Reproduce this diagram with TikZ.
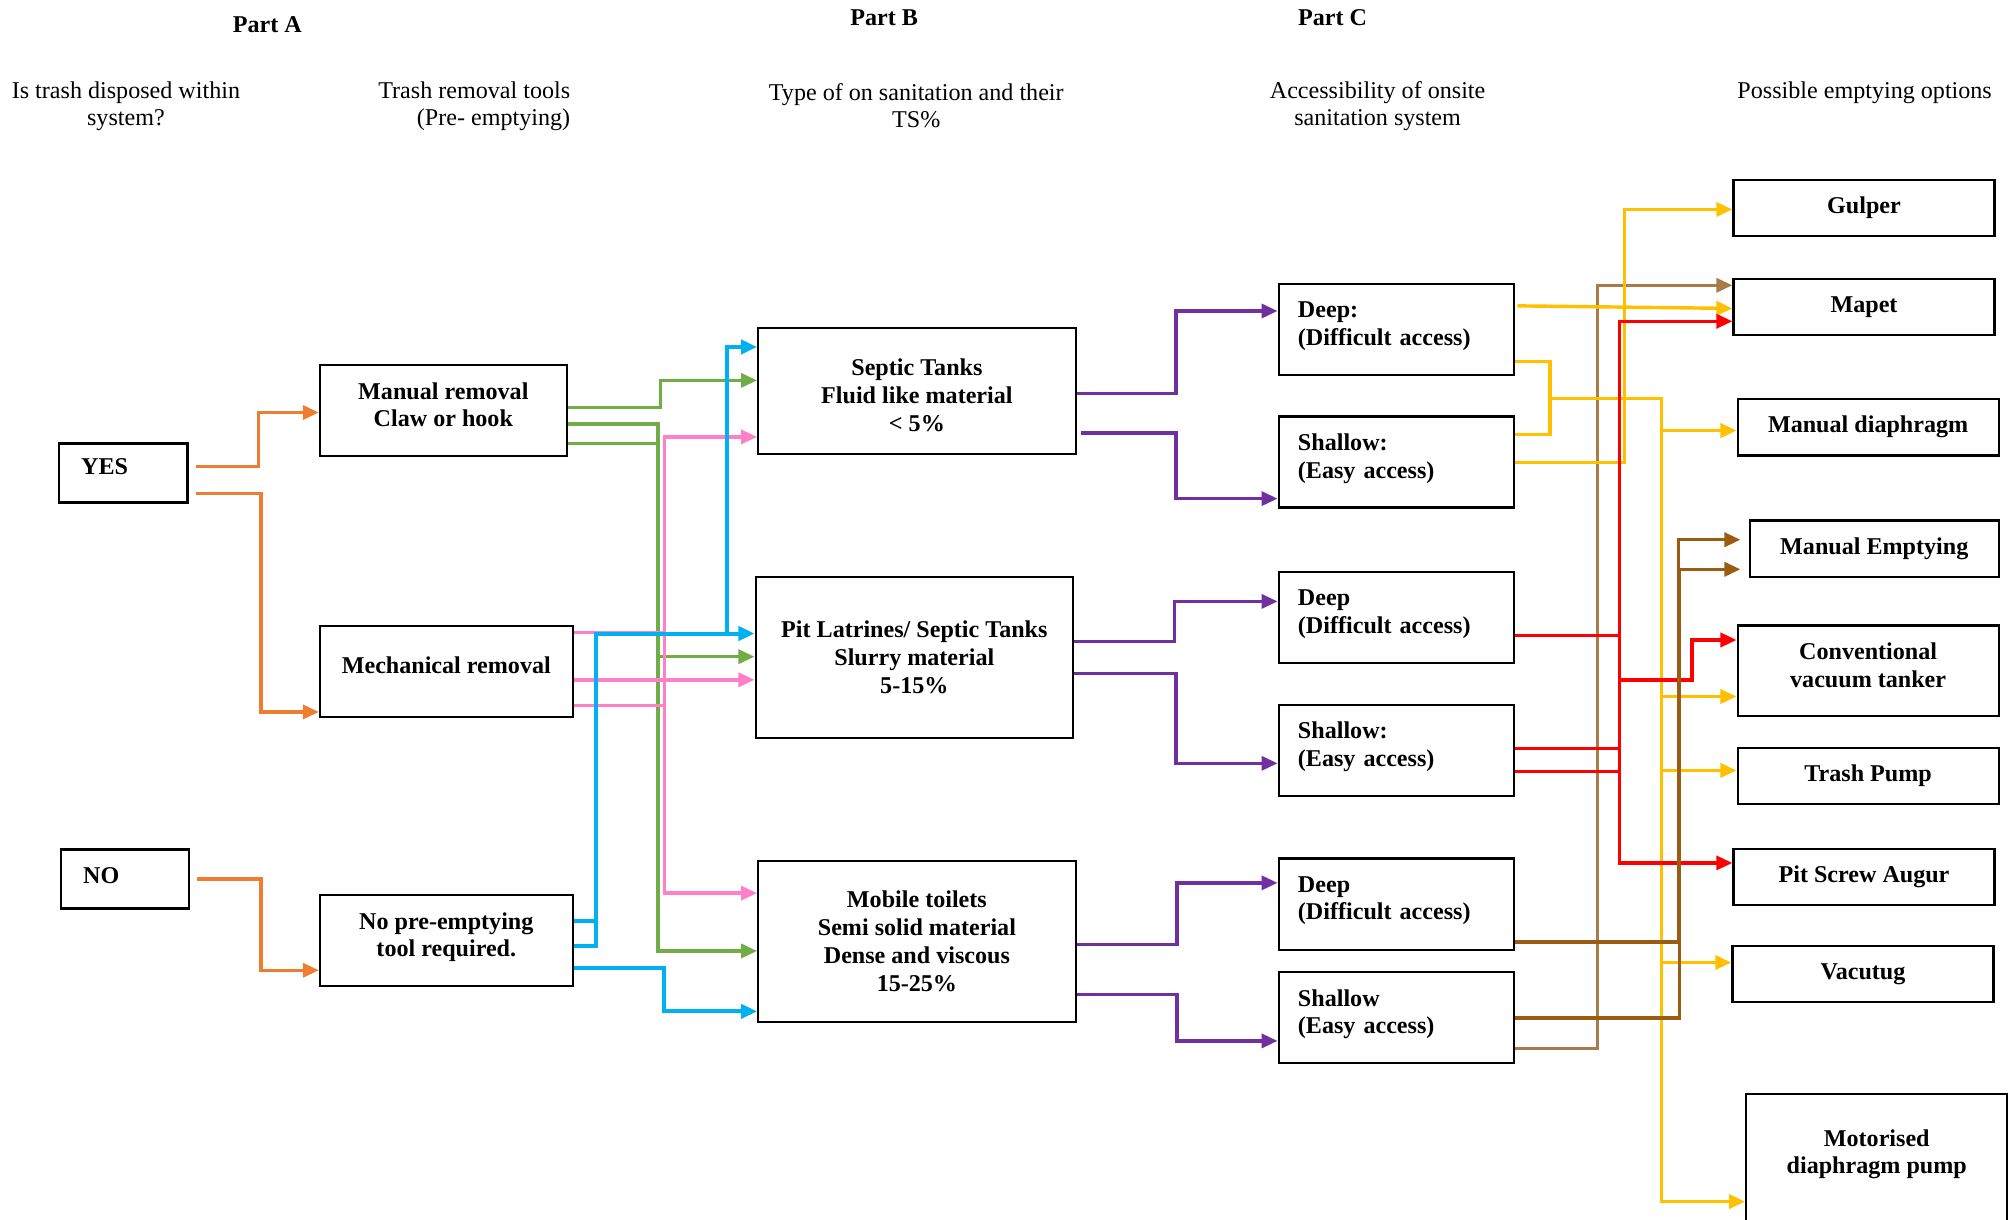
\documentclass[tikz,border=0pt]{standalone}
\usepackage{fontspec}
\setmainfont{Liberation Serif}
\usetikzlibrary{arrows.meta}

\definecolor{cOrange}{HTML}{ED7D31}
\definecolor{cGreen}{HTML}{70AD47}
\definecolor{cPink}{HTML}{FF80C8}
\definecolor{cBlue}{HTML}{00B0F0}
\definecolor{cPurple}{HTML}{7030A0}
\definecolor{cYellow}{HTML}{FFC000}
\definecolor{cRed}{HTML}{FF0000}
\definecolor{cBrown}{HTML}{9C5B12}
\definecolor{cTan}{HTML}{A97A4A}

% struts to nudge box texts up or down
\newcommand{\lift}{\rule[-6pt]{0pt}{0pt}}
\newcommand{\drop}{\rule{0pt}{13pt}}

\begin{document}
\begin{tikzpicture}[x=0.64pt, y=-0.64pt,
  cell/.style={draw, line width=1.1pt, inner sep=0pt, align=center, font=\fontsize{12}{13.8}\selectfont\bfseries},
  ansbox/.style={cell, align=left, text width=42pt, inner xsep=10.9pt, minimum height=29.4pt},
  toolbox/.style={cell, minimum width=125.8pt, minimum height=45.4pt},
  typebox/.style={cell, minimum width=158.1pt},
  accbox/.style={cell, align=left, text width=97.9pt, inner xsep=9.6pt, minimum height=45.4pt},
  optbox/.style={cell, minimum width=130pt, minimum height=28pt},
  hdr/.style={align=center, inner sep=0pt, font=\fontsize{12}{13.5}\selectfont},
  part/.style={inner sep=0pt, font=\fontsize{12}{14}\selectfont\bfseries},
  conn/.style={draw=#1, line width=1.7pt, -{Triangle[length=8pt,width=7pt]}},
  wire/.style={draw=#1, line width=1.7pt}]
  \useasboundingbox (0,0) rectangle (1568,949);

  % column headings
  \node[part] (partA) at (208,19) {Part A};
  \node[part] (partB) at (688,14) {Part B};
  \node[part] (partC) at (1037,14) {Part C};
  \node[hdr] (hA) at (98,82.5) {Is trash disposed within\\system?};
  \node[hdr, align=right, anchor=east] (hB) at (444,82.5) {Trash removal tools\\(Pre- emptying)};
  \node[hdr] (hC) at (713,82.5) {Type of on sanitation and their\\TS\%};
  \node[hdr] (hD) at (1072,82.5) {Accessibility of onsite\\sanitation system};
  \node[hdr] (hE) at (1451,72) {Possible emptying options};

  % Part A
  \node[ansbox] (yes) at (96,368) {YES\lift};
  \node[ansbox] (no) at (97.5,684) {NO\rule[-3pt]{0pt}{0pt}};
  \node[toolbox, minimum width=122.9pt] (man) at (345,319.5) {Manual removal\\Claw or hook\lift};
  \node[toolbox] (mech) at (347.3,522.5) {Mechanical removal\lift};
  \node[toolbox] (nopre) at (347.3,732) {No pre-emptying\\tool required.\lift};

  % Part B
  \node[typebox, minimum height=62.7pt] (septic) at (713.5,304) {\drop Septic Tanks\\Fluid like material\\\textless{} 5\%};
  \node[typebox, minimum height=80pt] (pit) at (711.5,511.5) {Pit Latrines/ Septic Tanks\\Slurry material\\5-15\%};
  \node[typebox, minimum height=80pt] (mobile) at (713.5,732.5) {Mobile toilets\\Semi solid material\\Dense and viscous\\15-25\%};

  % Part C
  \node[accbox] (deepA) at (1086.5,256.3) {Deep:\\(Difficult access)\lift};
  \node[accbox] (shalA) at (1086.5,359.5) {Shallow:\\(Easy access)\lift};
  \node[accbox] (deepB) at (1086.5,480.5) {Deep\\(Difficult access)\lift};
  \node[accbox] (shalB) at (1086.5,584) {Shallow:\\(Easy access)\lift};
  \node[accbox] (deepC) at (1086.5,703.5) {Deep\\(Difficult access)\lift};
  \node[accbox] (shalC) at (1086.5,792) {Shallow\\(Easy access)\lift};

  % emptying options
  \node[optbox] (gulper) at (1450.5,161.8) {Gulper};
  \node[optbox] (mapet) at (1450.5,239) {Mapet};
  \node[optbox] (mdia) at (1453.7,332.5) {Manual diaphragm};
  \node[optbox, minimum width=124.2pt] (memp) at (1458.5,426.9) {Manual Emptying};
  \node[optbox, minimum height=45.1pt] (conv) at (1453.7,522) {Conventional\\vacuum tanker\lift};
  \node[optbox] (trash) at (1453.7,604) {Trash Pump};
  \node[optbox] (augur) at (1450.5,682.3) {Pit Screw Augur};
  \node[optbox] (vacu) at (1449.7,757.8) {Vacutug};
  \node[optbox, minimum height=80pt] (motor) at (1460.4,914)
    {\raisebox{7pt}[0pt][0pt]{\begin{tabular}{@{}c@{}}Motorised\\diaphragm pump\end{tabular}}};

  % trash disposed?
  \draw[conn=cOrange] (yes.east|-0,363) ++(6,0) -| (201,321) -- (man.west|-0,321);
  \draw[conn=cOrange] (yes.east|-0,384) ++(6,0) -| (203,554) -- (mech.west|-0,554);
  \draw[conn=cOrange] (no.east|-0,684) ++(5,0) -| (203,755) -- (nopre.west|-0,755);

  % removal tools -> type
  \draw[conn=cGreen] (man.east|-0,317) -| (514,296) -- (septic.west|-0,296);
  \draw[conn=cGreen] (man.east|-0,330) -| (512,511) -- (pit.west|-0,511);
  \draw[conn=cGreen] (man.east|-0,345) -| (512,740) -- (mobile.west|-0,740);
  \draw[conn=cPink] (mech.east|-0,549) -| (517,340) -- (septic.west|-0,340);
  \draw[conn=cPink] (mech.east|-0,529) -- (pit.west|-0,529);
  \draw[conn=cPink] (mech.east|-0,492) -| (517,695) -- (mobile.west|-0,695);
  \draw[conn=cBlue, line width=2pt] (nopre.east|-0,717) -| (464,493) -| (566,270) -- (septic.west|-0,270);
  \draw[conn=cBlue, line width=2pt] (nopre.east|-0,736) -| (464,493) -- (pit.west|-0,493);
  \draw[conn=cBlue, line width=2pt] (nopre.east|-0,753) -| (517,787) -- (mobile.west|-0,787);

  % type -> accessibility
  \draw[conn=cPurple] (septic.east|-0,306) -| (915,242) -- (deepA.west|-0,242);
  \draw[conn=cPurple] (septic.east|-0,337) ++(3,0) -| (915,388) -- (shalA.west|-0,388);
  \draw[conn=cPurple] (pit.east|-0,499) -| (914,468) -- (deepB.west|-0,468);
  \draw[conn=cPurple] (pit.east|-0,524) -| (915,594) -- (shalB.west|-0,594);
  \draw[conn=cPurple] (mobile.east|-0,735) -| (916,687) -- (deepC.west|-0,687);
  \draw[conn=cPurple] (mobile.east|-0,774) -| (916,810) -- (shalC.west|-0,810);

  % accessibility -> emptying options
  \draw[conn=cTan] (shalC.east|-0,816) -| (1243,222) -- (mapet.west|-0,222);
  \draw[conn=cYellow] (deepA.east|-0,238) ++(2,0) -- (mapet.west|-0,240);
  \draw[wire=cYellow] (deepA.east|-0,281.5) -| (1206,310);
  \draw[conn=cYellow] (shalA.east|-0,338) -| (1206,310) -| (1293,935) -- (motor.west|-0,935);
  \coordinate (ybus) at (1293,310);
  \foreach \t/\y in {mdia/335,conv/542,trash/599.5,vacu/749}
    \draw[conn=cYellow] (ybus|-0,\y) -- (\t.west|-0,\y);
  \draw[conn=cYellow] (shalA.east|-0,360) -| (1264,163) -- (gulper.west|-0,163);
  \draw[conn=cRed] (shalB.east|-0,582.5) -| (1260,250) -- (mapet.west|-0,250);
  \draw[conn=cRed] (deepB.east|-0,494.5) -| (1260,671.5) -- (augur.west|-0,671.5);
  \draw[conn=cRed] (shalB.east|-0,600.5) -| (1260,529) -| (1316.5,498) -- (conv.west|-0,498);
  \draw[conn=cBrown] (deepC.east|-0,733) -| (1306,420) -- ([xshift=-4pt]memp.west|-0,420);
  \draw[conn=cBrown] (shalC.east|-0,792) -| (1307,443) -- ([xshift=-4pt]memp.west|-0,443);
\end{tikzpicture}
\end{document}
